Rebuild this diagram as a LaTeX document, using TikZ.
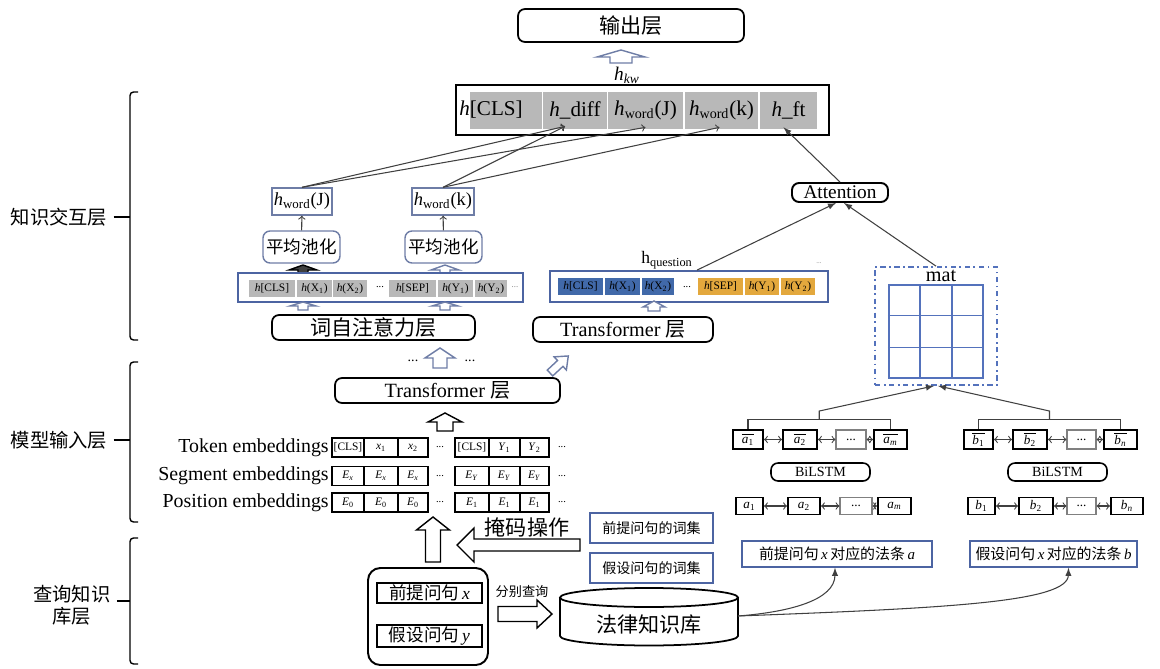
\documentclass[tikz,border=0pt]{standalone}
\usepackage{fontspec}
\setmainfont{Liberation Serif}
\newfontfamily\cjk{Noto Sans CJK SC}
\usetikzlibrary{calc,positioning}
\definecolor{cellgray}{HTML}{B8B8B8}
\definecolor{qblue}{HTML}{4169A9}
\definecolor{qorange}{HTML}{E3A83D}
\definecolor{frameblue}{HTML}{4C64A2}
\definecolor{softframe}{HTML}{6E7DA6}
\definecolor{gridblue}{HTML}{5472BC}
\def\hw{\textit{h}\textsubscript{word}}
\def\zh#1{{\cjk #1}}
% hollow block arrow: [style]{x}{y}{angle}{length}{head length}{shaft half width}{head half width}
\newcommand{\blockarr}[8][draw=black]{%
  \begin{scope}[shift={(#2,#3)},rotate=#4]
    \draw[fill=white,line width=0.8pt,#1] (0,-#7) -- (#5-#6,-#7) -- (#5-#6,-#8) -- (#5,0)
      -- (#5-#6,#8) -- (#5-#6,#7) -- (0,#7) -- cycle;
  \end{scope}}
\tikzset{
  fs/.style={font=\fontsize{#1}{#1}\selectfont},
  sz/.style 2 args={minimum width=#1*0.02cm, minimum height=#2*0.02cm},
  rbox/.style={draw, rounded corners=4pt, line width=1pt, inner sep=0pt},
  fbox/.style={draw=frameblue, line width=0.8pt, inner sep=0pt},
  gcell/.style={fill=cellgray, inner sep=0pt},
  ecell/.style={draw, line width=0.6pt, inner sep=0pt, fs=6.5},
  vbox/.style={draw, line width=1.1pt, inner sep=0pt, fs=7.5},
  link/.style={draw=black!75, line width=0.6pt}
}
\begin{document}
\begin{tikzpicture}[x=0.02cm,y=-0.02cm]
\useasboundingbox (0,0) rectangle (1160,669);

% output layer
\node[rbox, sz={226}{33}, fs=12] (out) at (631,25.5) {\zh{输出层}};
\blockarr[draw=softframe]{621}{63}{90}{13}{7}{11}{24}
\node[fs=11] (hkw) at (627,75) {\textit{h}\textsubscript{\textit{kw}}};

% concatenated vector
\node[draw, line width=1.2pt, sz={373}{50}] (hbar) at (642.5,110) {};
\node[gcell, sz={72}{37}] (tcls) at (506,110.5) {};
\node[fs=12, inner sep=0pt] (tclstxt) at (491,110) {\textit{h}[CLS]};
\node[gcell, sz={64}{37}, fs=12] (tdiff) at (575,110.5) {\textit{h}\_diff};
\node[gcell, sz={75}{37}, fs=12] (thwj) at (645.5,110.5) {\hw(J)};
\node[gcell, sz={73}{37}, fs=12] (thwk) at (721.5,110.5) {\hw(k)};
\node[gcell, sz={57}{37}, fs=12] (tft) at (788.5,110.5) {\textit{h}\_ft};

% word pooling branch
\node[draw=softframe, line width=0.8pt, inner sep=1pt, sz={50}{27}, fs=10.5] (hwJ) at (302,201.5) {\hw(J)};
\node[draw=softframe, line width=0.8pt, inner sep=1pt, sz={50}{27}, fs=10.5] (hwK) at (443,201.5) {\hw(k)};
\node[rbox, draw=softframe, line width=0.8pt, sz={77}{32}, fs=10] (pool1) at (301.5,247) {\zh{平均池化}};
\node[rbox, draw=softframe, line width=0.8pt, sz={77}{32}, fs=10] (pool2) at (443.5,247) {\zh{平均池化}};
\draw[link,->] (pool1) -- (hwJ);
\draw[link,->] (pool2) -- (hwK);
\draw[link,->] (hwJ.north) -- ($(tdiff.south)+(-10,-3)$);
\draw[link,->] (hwJ.north) -- ($(thwj.south)+(0,-2)$);
\draw[link,->] (hwK.north) -- ($(tdiff.south)+(-10,-3)$);
\draw[link,->] (hwK.north) -- ($(thwk.south)+(-2,-2)$);

\blockarr[draw=black, fill=black!75]{303}{273}{90}{8}{5}{5}{14}
\blockarr[draw=softframe]{445}{273}{90}{8}{5}{5}{14}

\node[fbox, line width=1pt, sz={285}{29}] (seq1) at (380.5,287.5) {};
\foreach \nm/\cx/\cw/\ct in {s1/272/46/{\textit{h}[CLS]}, s2/314.5/35/{\textit{h}(X\textsubscript{1})},
    s3/350/34/{\textit{h}(X\textsubscript{2})}, s4/412.5/47/{\textit{h}[SEP]},
    s5/455.5/35/{\textit{h}(Y\textsubscript{1})}, s6/491/32/{\textit{h}(Y\textsubscript{2})}}
  \node[gcell, sz={\cw}{17}, fs=6.5] (\nm) at (\cx,288.5) {\ct};
\node[fs=6] (s1dots) at (380,287) {...};
\node[fs=5, text=gray] (s1dots2) at (515,287) {...};

\blockarr[draw=softframe]{303}{310}{90}{8}{4}{5}{13}
\blockarr[draw=softframe]{445}{310}{90}{8}{4}{5}{13}
\node[rbox, sz={203}{25}, fs=12] (selfatt) at (373.5,327.5) {\zh{词自注意力层}};

% question branch
\node[fbox, line width=1pt, sz={278}{31}] (seq2) at (689,286.5) {};
\foreach \nm/\cx/\cw/\cc/\ct in {q1/580.5/45/qblue/{\textit{h}[CLS]}, q2/622.5/35/qblue/{\textit{h}(X\textsubscript{1})},
    q3/658/32/qblue/{\textit{h}(X\textsubscript{2})}, q4/720.5/45/qorange/{\textit{h}[SEP]},
    q5/762/34/qorange/{\textit{h}(Y\textsubscript{1})}, q6/798/34/qorange/{\textit{h}(Y\textsubscript{2})}}
  \node[fill=\cc, inner sep=0pt, sz={\cw}{17}, fs=6.5] (\nm) at (\cx,286.5) {\ct};
\node[fs=6] (s2dots) at (687,287) {...};
\node[fs=10] (hq) at (667,260) {h\textsubscript{question}};
\node[fs=4, text=gray] (qdots) at (819,263) {...};
\blockarr[draw=softframe]{654}{311}{90}{10}{6}{6}{11}
\node[rbox, sz={180}{25}, fs=11.5] (tf2) at (623,329.5) {Transformer \zh{层}};

\node[rbox, line width=1.1pt, sz={96}{19}, fs=11] (attn) at (840,192.5) {Attention};
\draw[link,-latex] ($(seq2.north)+(8,0)$) -- ($(attn.south)+(-4,0)$);
\draw[link,-latex] (attn.north) -- ($(tft.south)+(-5,-2)$);

% shared encoder
\blockarr[draw=softframe]{440}{368}{90}{20}{10}{7}{15}
\node[fs=8] (dl) at (413,361) {...};
\node[fs=8] (dr) at (470,361) {...};
\node[rbox, sz={225}{25}, fs=11.5] (tf1) at (447.5,390.5) {Transformer \zh{层}};
\blockarr[draw=softframe]{550}{373}{43}{25}{11}{4}{9}
\blockarr{445}{431}{90}{18}{9}{8}{17}

% embeddings
\foreach \ry/\lab [count=\r] in {447.5/Token embeddings, 476/Segment embeddings, 502.5/Position embeddings}
  \node[fs=11.3, anchor=east, inner sep=0pt] (lab\r) at (329,\ry) {\lab};
\foreach \cx/\cw/\ct [count=\i] in {348/32/{[CLS]}, 381/34/{\textit{x}\textsubscript{1}}, 413/30/{\textit{x}\textsubscript{2}},
    472/34/{[CLS]}, 504.5/31/{\textit{Y}\textsubscript{1}}, 534.5/29/{\textit{Y}\textsubscript{2}}}
  \node[ecell, sz={\cw}{19}] (tok\i) at (\cx,447.5) {\ct};
\foreach \cx/\cw/\ct [count=\i] in {348/32/x, 381/34/x, 413/30/x, 472/34/Y, 504.5/31/Y, 534.5/29/Y}
  \node[ecell, sz={\cw}{19}] (seg\i) at (\cx,476) {\textit{E}\textsubscript{\textit{\ct}}};
\foreach \cx/\cw/\ct [count=\i] in {348/32/0, 381/34/0, 413/30/0, 472/34/1, 504.5/31/1, 534.5/29/1}
  \node[ecell, sz={\cw}{19}] (pos\i) at (\cx,502.5) {\textit{E}\textsubscript{\ct}};
\foreach \ry [count=\r] in {447.5,476,502.5} {
  \node[fs=6] (edl\r) at (440,\ry) {...};
  \node[fs=6] (edr\r) at (562,\ry) {...};
}

% query knowledge base
\blockarr{433}{562}{90}{45}{13}{7.5}{16.5}
\blockarr{580}{545}{180}{123}{17}{6}{17}
\node[fs=12] (mask) at (527,527) {\zh{掩码操作}};
\node[fbox, sz={123}{30}, fs=8] (vp) at (651.5,528) {\zh{前提问句的词集}};
\node[fbox, sz={123}{30}, fs=8] (vh) at (651.5,568) {\zh{假设问句的词集}};
\node[draw, line width=1.1pt, rounded corners=7pt, sz={120}{97}] (inp) at (428,616.5) {};
\node[vbox, sz={105}{20}, fs=10] (qx) at (429.5,593) {\zh{前提问句}\,\textit{x}};
\node[vbox, sz={105}{22}, fs=10] (qy) at (429.5,636) {\zh{假设问句}\,\textit{y}};
\node[fs=7.5] (sep) at (522,592) {\zh{分别查询}};
\blockarr{498}{614}{0}{54}{15}{7.5}{14}
\draw[line width=1pt] (649,597.5) ellipse [x radius=89, y radius=9.5];
\draw[line width=1pt] (560,597.5) -- (560,636) arc[start angle=180, end angle=0, x radius=89, y radius=9.5] -- (738,597.5);
\node[fs=12] (kb) at (649,625) {\zh{法律知识库}};
\coordinate (kbr) at (738,616);

\node[fbox, sz={190}{26}, fs=8.5] (la) at (837,554) {\zh{前提问句}\,\textit{x}\,\zh{对应的法条}\,\textit{a}};
\node[fbox, sz={167}{26}, fs=8.5] (lb) at (1053.5,554) {\zh{假设问句}\,\textit{x}\,\zh{对应的法条}\,\textit{b}};
\draw[link,-latex] (kbr) .. controls (790,612) and (835,600) .. ($(la.south)+(-2,0)$);
\draw[link,-latex] (kbr) .. controls (950,608) and (1068,602) .. ($(lb.south)+(15,0)$);

% law article encoders
\foreach \nm/\cx/\cw/\ct in {ab1/748/30/{$\overline{\textit{a}\textsubscript{1}}$}, ab2/800/34/{$\overline{\textit{a}\textsubscript{2}}$},
    abm/890.5/33/{$\overline{\textit{a}\textsubscript{\textit{m}}}$}, bb1/978.5/29/{$\overline{\textit{b}\textsubscript{1}}$},
    bb2/1030/34/{$\overline{\textit{b}\textsubscript{2}}$}, bbn/1120.5/33/{$\overline{\textit{b}\textsubscript{\textit{n}}}$}}
  \node[vbox, sz={\cw}{19}] (\nm) at (\cx,439.5) {\ct};
\node[draw=gray, line width=0.6pt, inner sep=0pt, sz={30}{19}, fs=7.5] (abd) at (851,439.5) {...};
\node[draw=gray, line width=0.6pt, inner sep=0pt, sz={29}{19}, fs=7.5] (bbd) at (1081.5,439.5) {...};
\foreach \nm/\cx/\cw/\ct in {a1/749.5/27/{\textit{a}\textsubscript{1}}, a2/804/32/{\textit{a}\textsubscript{2}},
    am/894.5/33/{\textit{a}\textsubscript{\textit{m}}}, b1/981.5/27/{\textit{b}\textsubscript{1}},
    b2/1036/34/{\textit{b}\textsubscript{2}}, bn/1127/32/{\textit{b}\textsubscript{\textit{n}}}}
  \node[vbox, sz={\cw}{17}] (\nm) at (\cx,506) {\ct};
\node[draw=gray, line width=0.6pt, inner sep=0pt, sz={32}{17}, fs=7.5] (ad) at (856,506) {...};
\node[draw=gray, line width=0.6pt, inner sep=0pt, sz={29}{17}, fs=7.5] (bd) at (1081.5,506) {...};
\foreach \u/\v in {ab1/ab2, ab2/abd, abd/abm, bb1/bb2, bb2/bbd, bbd/bbn, a1/a2, a2/ad, ad/am, b1/b2, b2/bd, bd/bn}
  \draw[link,<->] (\u) -- (\v);
\node[rbox, line width=0.9pt, sz={99}{18}, fs=8] (bl1) at (820.5,472) {BiLSTM};
\node[rbox, line width=0.9pt, sz={99}{18}, fs=8] (bl2) at (1057.5,472) {BiLSTM};

% interaction matrix
\node[draw=gridblue, line width=1pt, dash dot, sz={122}{118}] (matbox) at (936,326) {};
\node[fs=11.5] (matlab) at (941,276) {mat};
\node[draw=gridblue, line width=1.2pt, sz={94}{93}] (grid) at (936,331.5) {};
\foreach \k in {1,2} {
  \draw[gridblue, line width=0.6pt] ($(grid.north west)!\k/3!(grid.north east)$) -- ($(grid.south west)!\k/3!(grid.south east)$);
  \draw[gridblue, line width=0.6pt] ($(grid.north west)!\k/3!(grid.south west)$) -- ($(grid.north east)!\k/3!(grid.south east)$);
}
\draw[link] (ab1.north) -- ++(0,-10) -| (abm.north);
\draw[link] (bb1.north) -- ++(0,-10) -| (bbn.north);
\coordinate (atop) at ($(ab1.north)!0.5!(abm.north)+(0,-10)$);
\coordinate (btop) at ($(bb1.north)!0.5!(bbn.north)+(0,-10)$);
\draw[link,-latex] (atop) -- ++(0,-8) -- ($(matbox.south)+(-2,0)$);
\draw[link,-latex] (btop) -- ++(0,-8) -- ($(matbox.south)+(2,0)$);
\draw[link,-latex] (matbox.north) -- ($(attn.south)+(4,0)$);

% layer braces
\node[fs=11] (lyr1) at (59,217) {\zh{知识交互层}};
\node[fs=11] (lyr2) at (59,440) {\zh{模型输入层}};
\node[font=\fontsize{11}{12.5}\selectfont, align=center] (lyr3) at (72,605) {\zh{查询知识}\\\zh{库层}};
\draw[line width=0.8pt, rounded corners=2pt] (138,92) -- (130,92) -- (130,340) -- (138,340);
\draw[line width=0.8pt, rounded corners=2pt] (138,362) -- (130,362) -- (130,522) -- (138,522);
\draw[line width=0.8pt, rounded corners=2pt] (138,538) -- (130,538) -- (130,664) -- (138,664);
\draw[line width=0.8pt] (lyr1.east) -- (130,217);
\draw[line width=0.8pt] (lyr2.east) -- (130,440);
\draw[line width=0.8pt] (lyr3.east) ++(0,-4) -- (130,601);
\end{tikzpicture}
\end{document}
